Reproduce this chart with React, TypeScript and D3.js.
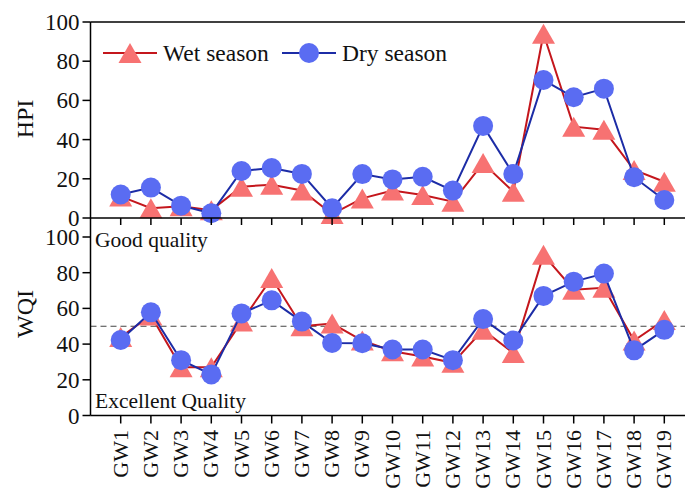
import React from "react";
import * as d3 from "d3";

// Sampling sites
const sites = [
  "GW1", "GW2", "GW3", "GW4", "GW5", "GW6", "GW7", "GW8", "GW9", "GW10",
  "GW11", "GW12", "GW13", "GW14", "GW15", "GW16", "GW17", "GW18", "GW19",
];

// Heavy metal pollution index
const wetHPI = [11, 5, 6, 4, 16, 17, 14, 2, 10, 14, 11.7, 8.3, 28, 13.4, 94, 46.6, 45, 24.5, 18.5];
const dryHPI = [12, 15.5, 6.3, 2.4, 24, 25.5, 22.5, 5, 22.4, 19.7, 21, 14, 47, 22.4, 70.4, 61.6, 66, 20.8, 9.2];

// Water quality index
const wetWQI = [44, 56, 27, 27, 52.6, 77, 50, 51.5, 42, 36, 33, 29.5, 48, 35, 90, 70.5, 71.5, 42, 53.5];
const dryWQI = [42.3, 57.8, 31, 23, 57.2, 64.5, 52.6, 40.6, 40.5, 37, 37, 31, 54, 42, 67, 75, 79.5, 36.5, 48];

const yTicks = [0, 20, 40, 60, 80, 100];
const wqiThreshold = 50;

const W = 685;
const H = 491;
const FONT = "'Liberation Serif', 'Times New Roman', serif";

const wetLine = "#c4161c";
const wetFill = "#f77272";
const dryLine = "#1c2ca6";
const dryFill = "#5a6cf2";

const x = d3.scaleLinear().domain([0, 20]).range([90.5, 694.5]);
const yTop = d3.scaleLinear().domain([0, 100]).range([218, 22]);
const yBot = d3.scaleLinear().domain([0, 100]).range([415.5, 237]);

const triPath = "M0,-10L11.5,10L-11.5,10Z";

function Series({
  values, y, kind,
}: { values: number[]; y: d3.ScaleLinear<number, number>; kind: "wet" | "dry" }) {
  const line = d3
    .line<number>()
    .x((_, i) => x(i + 1))
    .y((v) => y(v));
  const stroke = kind === "wet" ? wetLine : dryLine;
  const fill = kind === "wet" ? wetFill : dryFill;
  return (
    <g>
      <path d={line(values) || ""} fill="none" stroke={stroke} strokeWidth={2} />
      {values.map((v, i) =>
        kind === "wet" ? (
          <path key={i} d={triPath} transform={`translate(${x(i + 1)},${y(v)})`} fill={fill} />
        ) : (
          <circle key={i} cx={x(i + 1)} cy={y(v)} r={10} fill={fill} />
        )
      )}
    </g>
  );
}

function YAxis({ y, title, titleY }: { y: d3.ScaleLinear<number, number>; title: string; titleY: number }) {
  const x0 = x(0);
  return (
    <g>
      {yTicks.map((t) => (
        <g key={t}>
          <line x1={x0 - 8} x2={x0} y1={y(t)} y2={y(t)} stroke="#000" strokeWidth={1.5} />
          <text
            x={x0 - 11}
            y={y(t)}
            dy="0.35em"
            textAnchor="end"
            fontSize={23}
            fontFamily={FONT}
            fill="#111"
          >
            {t}
          </text>
        </g>
      ))}
      <text
        transform={`translate(33,${titleY}) rotate(-90)`}
        textAnchor="middle"
        fontSize={24}
        fontFamily={FONT}
        fill="#111"
      >
        {title}
      </text>
    </g>
  );
}

export default function App() {
  const x0 = x(0);
  return (
    <svg
      width={W}
      height={H}
      style={{ position: "absolute", left: 0, top: 0, background: "#fff" }}
    >
      <rect width={W} height={H} fill="#fff" />

      {/* threshold between excellent and good quality */}
      <line
        x1={x0}
        x2={W}
        y1={yBot(wqiThreshold)}
        y2={yBot(wqiThreshold)}
        stroke="#444"
        strokeWidth={1.2}
        strokeDasharray="6,4"
      />

      <Series values={wetHPI} y={yTop} kind="wet" />
      <Series values={dryHPI} y={yTop} kind="dry" />
      <Series values={wetWQI} y={yBot} kind="wet" />
      <Series values={dryWQI} y={yBot} kind="dry" />

      {/* frame */}
      <line x1={x0} x2={W} y1={22} y2={22} stroke="#000" strokeWidth={1.5} />
      <line x1={x0} x2={W} y1={218} y2={218} stroke="#000" strokeWidth={1.5} />
      <line x1={x0} x2={W} y1={yBot(0)} y2={yBot(0)} stroke="#000" strokeWidth={1.5} />
      <line x1={x0} x2={x0} y1={22} y2={yBot(0)} stroke="#000" strokeWidth={1.5} />

      {/* x ticks on both panels */}
      {sites.map((s, i) => (
        <g key={s}>
          <line x1={x(i + 1)} x2={x(i + 1)} y1={218} y2={225} stroke="#000" strokeWidth={1.5} />
          <line
            x1={x(i + 1)}
            x2={x(i + 1)}
            y1={yBot(0)}
            y2={yBot(0) + 8}
            stroke="#000"
            strokeWidth={1.5}
          />
          <text
            transform={`translate(${x(i + 1) + 7},430) rotate(-90)`}
            textAnchor="end"
            fontSize={22}
            fontFamily={FONT}
            fill="#111"
          >
            {s}
          </text>
        </g>
      ))}

      <YAxis y={yTop} title="HPI" titleY={119} />
      <YAxis y={yBot} title="WQI" titleY={314} />

      <text x={95} y={247} fontSize={21.5} fontFamily={FONT} fill="#111">
        Good quality
      </text>
      <text x={95} y={408} fontSize={21.5} fontFamily={FONT} fill="#111">
        Excellent Quality
      </text>

      {/* legend */}
      <g>
        <line x1={103} x2={157} y1={53} y2={53} stroke={wetLine} strokeWidth={2} />
        <path d={triPath} transform="translate(130,53)" fill={wetFill} />
        <text x={163} y={53} dy="0.35em" fontSize={23.5} fontFamily={FONT} fill="#111">
          Wet season
        </text>
        <line x1={282} x2={336} y1={53} y2={53} stroke={dryLine} strokeWidth={2} />
        <circle cx={309} cy={53} r={10} fill={dryFill} />
        <text x={342} y={53} dy="0.35em" fontSize={23.5} fontFamily={FONT} fill="#111">
          Dry season
        </text>
      </g>
    </svg>
  );
}
